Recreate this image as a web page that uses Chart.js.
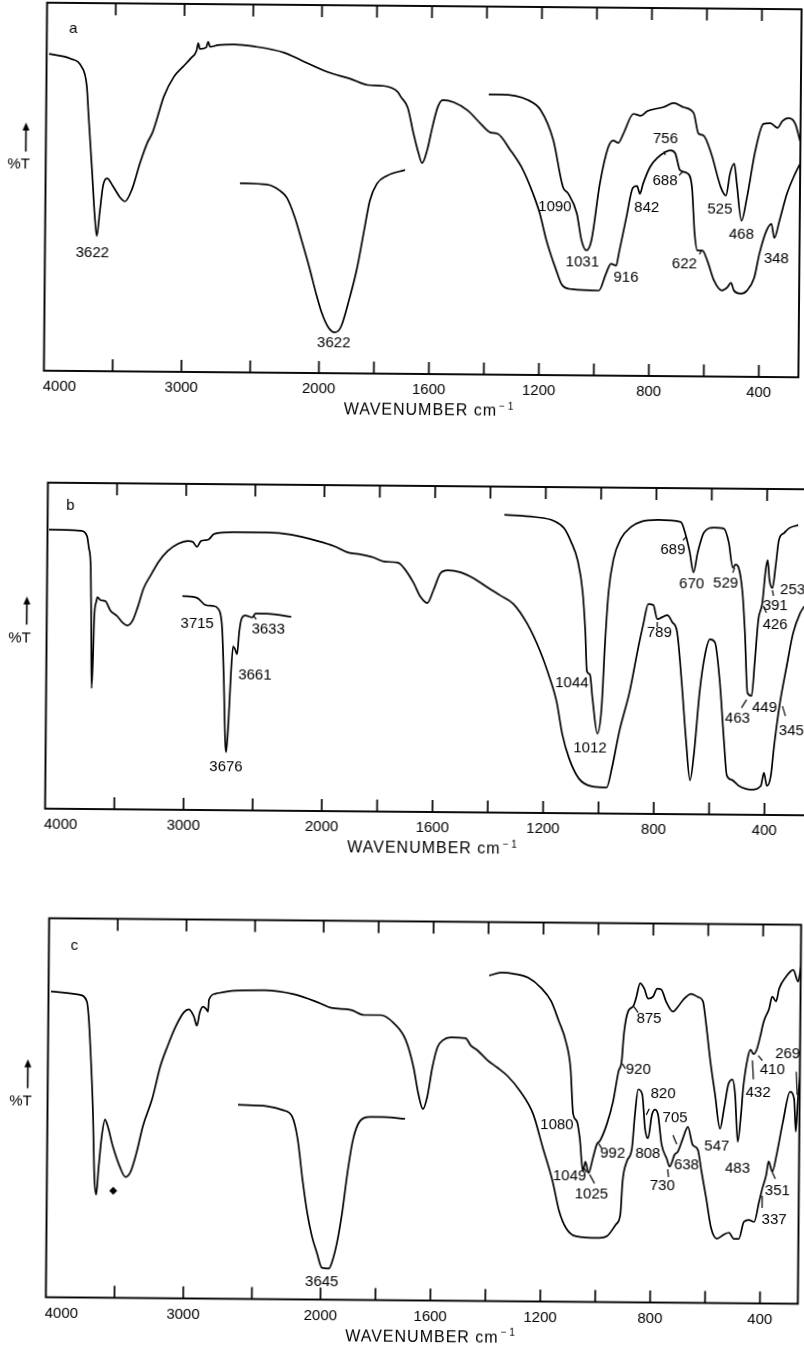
<!DOCTYPE html>
<html>
<head>
<meta charset="utf-8">
<script src="https://cdn.jsdelivr.net/npm/chart.js@4.4.1/dist/chart.umd.min.js"></script>
<style>
  html, body { margin: 0; padding: 0; background: #fff; }
  body { width: 804px; height: 1348px; position: relative; overflow: hidden; }
  canvas { position: absolute; left: 0; }
</style>
</head>
<body>
<canvas id="panelA" width="804" height="430" style="top:0px;transform:rotate(0.5deg);transform-origin:423px 190px"></canvas>
<canvas id="panelB" width="830" height="400" style="top:470px;transform:rotate(0.5deg);transform-origin:429px 179px"></canvas>
<canvas id="panelC" width="804" height="448" style="top:900px;transform:rotate(0.5deg);transform-origin:423px 211px"></canvas>
<script>
// IR spectra a, b, c  (wavenumber in cm-1, transmittance in arbitrary %T)

// axis ticks
const tickMarks = [3500, 3000, 2500, 2000, 1800, 1600, 1400, 1200, 1000, 800, 600, 400];
const tickLabels = [4000, 3000, 2000, 1600, 1200, 800, 400];

// ---- panel a ----
const aMainWn = [3982, 3822, 3749, 3706, 3691, 3662, 3640, 3624, 3604, 3582, 3553, 3509, 3458, 3422, 3371, 3313, 3262, 3226, 3189, 3146, 3073, 3008, 2950, 2910, 2898, 2886, 2840, 2826, 2812, 2753, 2637, 2491, 2273, 2150, 1976, 1893, 1831, 1773, 1722, 1711, 1685, 1664, 1645, 1631, 1613, 1595, 1576, 1558, 1518, 1467, 1420, 1384, 1358, 1311, 1264, 1228, 1202, 1177, 1140, 1118, 1082, 984, 959, 941, 922, 913, 887, 864, 849, 838, 827, 802, 773, 747, 729, 711, 693, 667, 649, 638, 627, 609, 591, 566, 537, 518, 504, 493, 468, 446, 420, 402, 377, 359, 348, 330, 304, 275, 257];
const aMainT = [86.1, 84.8, 82.9, 77.4, 69.3, 54.1, 42.1, 36.7, 43.2, 50.3, 52.4, 50.3, 47.3, 46.2, 49.5, 56.8, 62.2, 64.9, 69.3, 74.7, 80.2, 82.9, 85.3, 87.3, 89.4, 87.8, 88.2, 89.8, 88.4, 88.9, 89.1, 88.6, 87.0, 85.0, 81.8, 80.0, 78.4, 78.2, 76.6, 75.3, 72.3, 65.5, 60.1, 57.3, 60.9, 67.1, 72.6, 74.5, 73.9, 71.7, 68.2, 65.8, 65.5, 61.1, 55.7, 49.5, 44.0, 36.7, 28.5, 24.5, 23.4, 23.1, 27.7, 30.4, 29.9, 33.2, 42.9, 51.1, 51.6, 49.5, 52.2, 56.8, 59.5, 60.9, 61.4, 60.6, 56.0, 55.2, 51.4, 38.9, 34.2, 34.2, 31.5, 26.1, 23.4, 24.2, 25.5, 23.4, 22.6, 23.4, 26.9, 33.4, 39.7, 41.6, 37.8, 42.4, 49.7, 55.2, 57.9];
const aUpperWn = [1391, 1347, 1249, 1202, 1155, 1118, 1100, 1067, 1049, 1031, 1013, 984, 955, 937, 918, 900, 864, 838, 813, 755, 718, 682, 645, 627, 609, 580, 544, 525, 511, 496, 486, 468, 449, 420, 391, 366, 340, 322, 300, 275, 257];
const aUpperT = [76.1, 76.1, 74.7, 72.0, 63.9, 51.1, 49.5, 44.0, 36.7, 34.0, 36.7, 52.2, 62.0, 63.9, 63.3, 65.8, 71.2, 70.7, 72.0, 73.1, 74.2, 73.1, 71.5, 66.0, 65.5, 60.6, 51.4, 49.2, 55.2, 57.9, 52.4, 42.4, 48.6, 61.4, 68.8, 69.0, 67.7, 69.6, 70.4, 68.8, 64.1];
const aInsetWn = [2586, 2390, 2295, 2244, 2186, 2128, 2077, 2026, 1991, 1965, 1944, 1922, 1893, 1864, 1838, 1820, 1795, 1758, 1693];
const aInsetT = [51.4, 51.1, 49.5, 47.6, 42.4, 35.3, 28.8, 21.7, 16.3, 12.2, 11.1, 12.5, 19.8, 28.8, 39.7, 47.0, 51.6, 53.8, 55.4];
const aPeaks = [["3622", 3655, 32.1], ["3622", 1947, 8.2], ["1090", 1147, 45.7], ["1031", 1045, 30.7], ["916", 886, 26.6], ["842", 813, 45.6], ["756", 747, 64.4], ["688", 747, 53.0], ["622", 674, 30.4], ["525", 547, 45.4], ["468", 468, 38.6], ["348", 340, 32.1]];
const aLeaders = [[751, 61.1, 747, 60.1], [696, 54.6, 682, 55.7], [620, 33.2, 613, 34.0]];

// ---- panel b ----
const bMainWn = [3989, 3758, 3714, 3700, 3685, 3678, 3672, 3664, 3657, 3642, 3635, 3613, 3577, 3541, 3490, 3447, 3418, 3382, 3346, 3302, 3252, 3194, 3129, 3056, 2984, 2948, 2919, 2890, 2854, 2832, 2796, 2651, 2406, 2239, 2044, 1964, 1914, 1867, 1820, 1783, 1733, 1711, 1675, 1650, 1625, 1603, 1578, 1552, 1505, 1458, 1407, 1361, 1314, 1263, 1216, 1180, 1155, 1133, 1108, 1072, 1025, 971, 953, 927, 891, 862, 844, 826, 808, 793, 775, 757, 739, 721, 703, 685, 670, 656, 638, 620, 602, 584, 566, 548, 537, 519, 494, 447, 414, 403, 392, 378, 367, 349, 324, 302, 277, 262];
const bMainT = [85.6, 85.3, 83.7, 80.1, 73.9, 57.7, 37.1, 45.4, 58.6, 63.8, 65.0, 64.1, 63.8, 61.0, 59.2, 57.1, 56.4, 57.7, 61.7, 67.8, 71.8, 76.1, 79.4, 81.6, 82.5, 82.2, 80.7, 82.5, 82.8, 83.1, 84.7, 85.3, 85.3, 84.7, 82.8, 81.3, 79.4, 78.8, 77.9, 76.7, 76.4, 74.8, 70.2, 66.0, 64.1, 68.1, 73.3, 74.2, 73.6, 71.8, 69.0, 66.6, 64.1, 58.0, 49.7, 41.4, 34.4, 24.2, 16.9, 10.7, 8.3, 8.0, 13.8, 25.2, 37.4, 50.6, 58.0, 64.4, 64.1, 59.8, 60.4, 61.0, 58.9, 55.8, 40.5, 22.1, 10.4, 19.0, 37.4, 48.8, 53.7, 52.8, 41.4, 22.1, 12.0, 10.7, 8.9, 7.7, 8.9, 12.9, 8.9, 12.0, 21.2, 33.4, 45.7, 55.8, 62.0, 64.1];
const bUpperWn = [1349, 1241, 1169, 1133, 1108, 1082, 1064, 1053, 1046, 1035, 1025, 1006, 992, 981, 970, 953, 927, 891, 855, 793, 711, 693, 678, 664, 649, 627, 591, 555, 537, 522, 512, 501, 486, 476, 465, 450, 439, 428, 414, 403, 396, 389, 378, 367, 356, 338, 320, 287];
const bUpperT = [91.4, 90.8, 89.6, 87.4, 83.4, 77.3, 68.1, 55.8, 43.6, 42.6, 35.3, 24.5, 32.2, 52.8, 68.1, 78.2, 84.4, 88.0, 89.6, 90.2, 89.6, 85.6, 80.4, 74.2, 80.4, 86.5, 88.0, 87.7, 83.4, 75.8, 76.7, 75.8, 68.1, 55.8, 37.4, 36.5, 47.5, 59.8, 65.0, 75.2, 78.2, 72.1, 69.6, 76.4, 84.4, 86.5, 88.0, 89.0];
const bInsetWn = [3020, 2912, 2854, 2796, 2760, 2731, 2717, 2702, 2695, 2680, 2666, 2651, 2637, 2622, 2608, 2593, 2565, 2514, 2492, 2406, 2232];
const bInsetT = [65.6, 65.0, 62.9, 62.6, 61.7, 55.5, 41.1, 20.9, 17.8, 27.0, 41.1, 50.3, 49.4, 47.9, 54.6, 58.6, 59.8, 59.2, 60.4, 60.4, 59.5];
const bPeaks = [["3715", 2912, 57.1], ["3633", 2398, 55.5], ["3661", 2492, 41.4], ["3676", 2695, 13.2], ["689", 739, 81.0], ["670", 670, 70.6], ["529", 547, 70.9], ["253", 305, 69.0], ["391", 367, 64.1], ["426", 367, 58.3], ["789", 785, 55.5], ["1044", 1100, 39.9], ["1012", 1032, 19.9], ["463", 500, 29.4], ["449", 403, 32.8], ["345", 305, 25.8]];
const bLeaders = [[703, 84.0, 692, 85.0], [522, 74.2, 515, 75.8], [378, 69.0, 374, 67.2], [410, 64.1, 399, 62.0], [793, 58.9, 793, 57.4], [486, 32.8, 468, 35.3], [338, 33.4, 327, 30.4], [2507, 59.8, 2485, 58.6]];

// ---- panel c ----
const cMainWn = [3982, 3778, 3720, 3705, 3690, 3669, 3654, 3640, 3625, 3603, 3581, 3559, 3523, 3472, 3428, 3392, 3348, 3304, 3239, 3181, 3130, 3071, 3013, 2977, 2940, 2918, 2897, 2875, 2853, 2838, 2831, 2780, 2649, 2430, 2212, 2037, 1971, 1898, 1851, 1789, 1742, 1698, 1669, 1651, 1633, 1618, 1600, 1582, 1563, 1534, 1480, 1461, 1436, 1399, 1363, 1327, 1280, 1232, 1195, 1159, 1134, 1108, 1072, 988, 959, 926, 911, 904, 889, 871, 861, 850, 835, 824, 813, 799, 788, 777, 763, 744, 733, 715, 704, 686, 668, 650, 631, 617, 599, 580, 559, 534, 515, 497, 479, 461, 443, 424, 406, 395, 381, 373, 359, 344, 322, 297, 282, 275, 268, 253];
const cMainT = [80.7, 79.9, 78.1, 73.6, 64.9, 49.1, 31.4, 27.2, 34.0, 42.7, 47.0, 45.1, 40.1, 34.8, 31.9, 33.2, 38.5, 45.4, 52.5, 61.2, 66.5, 71.8, 75.5, 76.3, 74.4, 72.0, 75.5, 77.0, 76.5, 75.7, 78.9, 80.5, 81.3, 81.5, 80.5, 78.4, 77.0, 76.5, 75.2, 75.2, 73.1, 68.7, 61.6, 54.7, 50.5, 53.7, 61.6, 66.9, 68.7, 69.5, 69.3, 67.4, 66.1, 63.5, 61.6, 59.5, 55.5, 49.5, 40.5, 31.8, 23.9, 19.4, 17.3, 16.9, 17.4, 20.6, 23.2, 31.9, 37.2, 40.6, 49.6, 56.2, 54.9, 45.9, 43.3, 49.6, 50.9, 49.6, 41.7, 38.0, 35.9, 39.1, 39.8, 43.3, 46.4, 41.7, 40.4, 34.7, 27.6, 19.7, 17.0, 18.1, 18.6, 17.0, 17.0, 21.5, 22.0, 21.5, 26.9, 30.3, 34.0, 37.5, 34.8, 39.3, 48.0, 55.9, 54.1, 45.4, 54.1, 65.7];
const cUpperWn = [1396, 1352, 1305, 1254, 1206, 1170, 1141, 1115, 1097, 1086, 1072, 1061, 1049, 1040, 1028, 1013, 999, 988, 963, 941, 922, 911, 904, 889, 871, 861, 846, 831, 817, 799, 784, 769, 751, 726, 708, 686, 660, 635, 617, 606, 588, 570, 551, 537, 522, 507, 497, 486, 475, 468, 453, 442, 431, 420, 409, 395, 376, 365, 351, 340, 315, 289, 271, 260, 249];
const cUpperT = [85.9, 86.7, 86.4, 85.4, 82.7, 79.3, 74.0, 68.7, 61.6, 49.5, 47.6, 43.1, 34.5, 37.0, 34.0, 37.9, 41.6, 42.5, 47.0, 53.0, 61.0, 63.6, 70.7, 76.8, 78.1, 80.2, 84.2, 82.8, 80.2, 80.7, 82.8, 82.6, 79.4, 76.8, 78.1, 80.2, 81.5, 80.7, 79.6, 74.3, 63.7, 55.0, 46.0, 51.3, 57.7, 59.0, 55.0, 42.6, 49.7, 56.6, 64.5, 66.9, 65.8, 66.9, 69.9, 74.4, 77.8, 81.0, 79.7, 83.1, 86.3, 88.1, 85.0, 89.4, 92.1];
const cInsetWn = [2613, 2401, 2285, 2219, 2176, 2139, 2103, 2066, 2030, 1996, 1971, 1960, 1942, 1924, 1906, 1887, 1862, 1825, 1778, 1698];
const cInsetT = [51.2, 50.9, 49.9, 48.3, 42.2, 31.7, 23.0, 16.6, 12.4, 8.4, 8.2, 9.8, 15.0, 23.0, 33.5, 42.2, 47.2, 48.3, 48.3, 47.9];
const cPeaks = [["3645", 1996, 4.7], ["875", 813, 74.9], ["920", 850, 61.5], ["820", 759, 55.1], ["1080", 1145, 46.6], ["705", 715, 48.8], ["992", 941, 39.3], ["808", 813, 39.3], ["547", 562, 41.2], ["638", 672, 36.4], ["483", 486, 35.4], ["1049", 1097, 33.2], ["1025", 1017, 28.5], ["730", 759, 30.9], ["269", 307, 66.0], ["410", 362, 61.7], ["432", 413, 55.7], ["351", 340, 29.6], ["337", 351, 22.2]];
const cLeaders = [[868, 78.0, 853, 76.5], [908, 62.9, 897, 61.6], [820, 49.5, 809, 51.1], [722, 44.2, 708, 41.8], [992, 41.8, 981, 40.5], [1043, 35.2, 1035, 34.2], [1024, 33.6, 1006, 31.3], [740, 35.2, 737, 33.1], [275, 61.2, 271, 55.1], [414, 65.4, 399, 64.1], [435, 64.1, 431, 59.1], [359, 34.6, 348, 32.9], [395, 28.4, 395, 25.2]];
const cMarker = [3516, 28.2];

const INK = "#000";
const FONT = '"Liberation Sans", Arial, Helvetica, sans-serif';

// wavenumber -> position along the axis (scale doubles below 2000 cm-1)
function irPos(w) {
  return w >= 2000 ? 4000 - w : 2000 + 2 * (2000 - w);
}
function irWn(p) {
  return p <= 2000 ? 4000 - p : 2000 - (p - 2000) / 2;
}

class IrScale extends Chart.LinearScale {
  static id = "ir";
  static defaults = Chart.LinearScale.defaults;
  getPixelForValue(value) {
    const a = irPos(this.max);
    const b = irPos(this.min);
    return this.getPixelForDecimal((irPos(value) - a) / (b - a));
  }
  getValueForPixel(pixel) {
    const a = irPos(this.max);
    const b = irPos(this.min);
    return irWn(a + this.getDecimalForPixel(pixel) * (b - a));
  }
}
Chart.register(IrScale);

const irDecor = {
  id: "irDecor",
  afterDatasetsDraw(chart, args, opts) {
    const { ctx, chartArea: ca } = chart;
    const x = chart.scales.x;
    const y = chart.scales.y;
    const line = (x1, y1, x2, y2) => {
      ctx.beginPath();
      ctx.moveTo(x1, y1);
      ctx.lineTo(x2, y2);
      ctx.stroke();
    };
    ctx.save();
    ctx.strokeStyle = INK;
    ctx.fillStyle = INK;

    // frame
    ctx.lineWidth = 1.9;
    ctx.strokeRect(ca.left, ca.top, ca.right - ca.left, ca.bottom - ca.top);

    // inward ticks, top and bottom
    ctx.lineWidth = 1.7;
    tickMarks.forEach((w) => {
      const px = x.getPixelForValue(w);
      line(px, ca.top, px, ca.top + 12);
      line(px, ca.bottom, px, ca.bottom - 12);
    });

    // tick labels
    ctx.font = "15px " + FONT;
    ctx.textBaseline = "middle";
    tickLabels.forEach((w) => {
      if (w === 4000) {
        ctx.textAlign = "left";
        ctx.fillText(String(w), ca.left - 1, ca.bottom + 16);
      } else {
        ctx.textAlign = "center";
        ctx.fillText(String(w), x.getPixelForValue(w), ca.bottom + 16);
      }
    });

    // axis title with superscript
    const cx = x.getPixelForValue(1600);
    const ty = ca.bottom + 37;
    ctx.font = "16px " + FONT;
    ctx.letterSpacing = "1px";
    const main = "WAVENUMBER cm";
    const mw = ctx.measureText(main).width;
    ctx.font = "10px " + FONT;
    ctx.letterSpacing = "0px";
    const sup = "\u2212 1";
    const sw = ctx.measureText(sup).width;
    const startX = cx - (mw + sw + 2) / 2;
    ctx.textAlign = "left";
    ctx.font = "16px " + FONT;
    ctx.letterSpacing = "1px";
    ctx.fillText(main, startX, ty);
    ctx.letterSpacing = "0px";
    ctx.font = "10px " + FONT;
    ctx.fillText(sup, startX + mw + 2, ty - 5);

    // %T with arrow
    ctx.font = "15px " + FONT;
    ctx.textAlign = "center";
    ctx.fillText("%T", ca.left - 27, y.getPixelForValue(opts.tLabel));
    const ax = ca.left - 20;
    const a1 = y.getPixelForValue(opts.arrow[0]);
    const a2 = y.getPixelForValue(opts.arrow[1]);
    ctx.lineWidth = 1.6;
    line(ax, a1 + 5, ax, a2);
    ctx.beginPath();
    ctx.moveTo(ax, a1 - 1);
    ctx.lineTo(ax - 3.5, a1 + 7);
    ctx.lineTo(ax + 3.5, a1 + 7);
    ctx.closePath();
    ctx.fill();

    // panel letter
    ctx.font = "15px " + FONT;
    ctx.fillText(opts.letter[0], x.getPixelForValue(opts.letter[1]), y.getPixelForValue(opts.letter[2]));

    // peak labels
    opts.peaks.forEach(([t, w, v]) => {
      ctx.fillText(t, x.getPixelForValue(w), y.getPixelForValue(v));
    });

    // leader strokes
    ctx.lineWidth = 1.2;
    opts.leaders.forEach(([w1, v1, w2, v2]) => {
      line(x.getPixelForValue(w1), y.getPixelForValue(v1), x.getPixelForValue(w2), y.getPixelForValue(v2));
    });

    // marker dot
    if (opts.marker) {
      const mx = x.getPixelForValue(opts.marker[0]);
      const my = y.getPixelForValue(opts.marker[1]);
      ctx.beginPath();
      ctx.moveTo(mx, my - 4);
      ctx.lineTo(mx + 4, my);
      ctx.lineTo(mx, my + 4);
      ctx.lineTo(mx - 4, my);
      ctx.closePath();
      ctx.fill();
    }
    ctx.restore();
  },
};

function series(wn, t) {
  return {
    data: wn.map((w, i) => ({ x: w, y: t[i] })),
    borderColor: INK,
    borderWidth: 1.7,
    pointRadius: 0,
    fill: false,
    cubicInterpolationMode: "monotone",
  };
}

function makePanel(id, panel) {
  return new Chart(document.getElementById(id), {
    type: "line",
    data: { datasets: panel.curves.map((c) => series(c[0], c[1])) },
    options: {
      responsive: false,
      animation: false,
      devicePixelRatio: 1,
      events: [],
      layout: { padding: panel.padding },
      scales: {
        x: { type: "ir", min: panel.xMin, max: 4000, bounds: "data", display: false },
        y: { type: "linear", min: 0, max: 100, display: false },
      },
      plugins: {
        legend: { display: false },
        tooltip: { enabled: false },
        irDecor: panel.decor,
      },
    },
    plugins: [irDecor],
  });
}

makePanel("panelA", {
  curves: [[aMainWn, aMainT], [aUpperWn, aUpperT], [aInsetWn, aInsetT]],
  padding: { left: 45.5, right: 4, top: 6, bottom: 56 },
  xMin: 256,
  decor: { letter: ["a", 3807, 92.9], tLabel: 56, arrow: [67.1, 59.5], peaks: aPeaks, leaders: aLeaders },
});

makePanel("panelB", {
  curves: [[bMainWn, bMainT], [bUpperWn, bUpperT], [bInsetWn, bInsetT]],
  padding: { left: 46.5, right: 18, top: 16, bottom: 58 },
  xMin: 233,
  decor: { letter: ["b", 3837, 92.9], tLabel: 52.1, arrow: [64.7, 56.4], peaks: bPeaks, leaders: bLeaders },
});

makePanel("panelC", {
  curves: [[cMainWn, cMainT], [cUpperWn, cUpperT], [cInsetWn, cInsetT]],
  padding: { left: 47.5, right: 4.5, top: 21.5, bottom: 47.5 },
  xMin: 262,
  decor: { letter: ["c", 3814, 92.9], tLabel: 51.7, arrow: [62.5, 55.1], peaks: cPeaks, leaders: cLeaders, marker: cMarker },
});
</script>
</body>
</html>
